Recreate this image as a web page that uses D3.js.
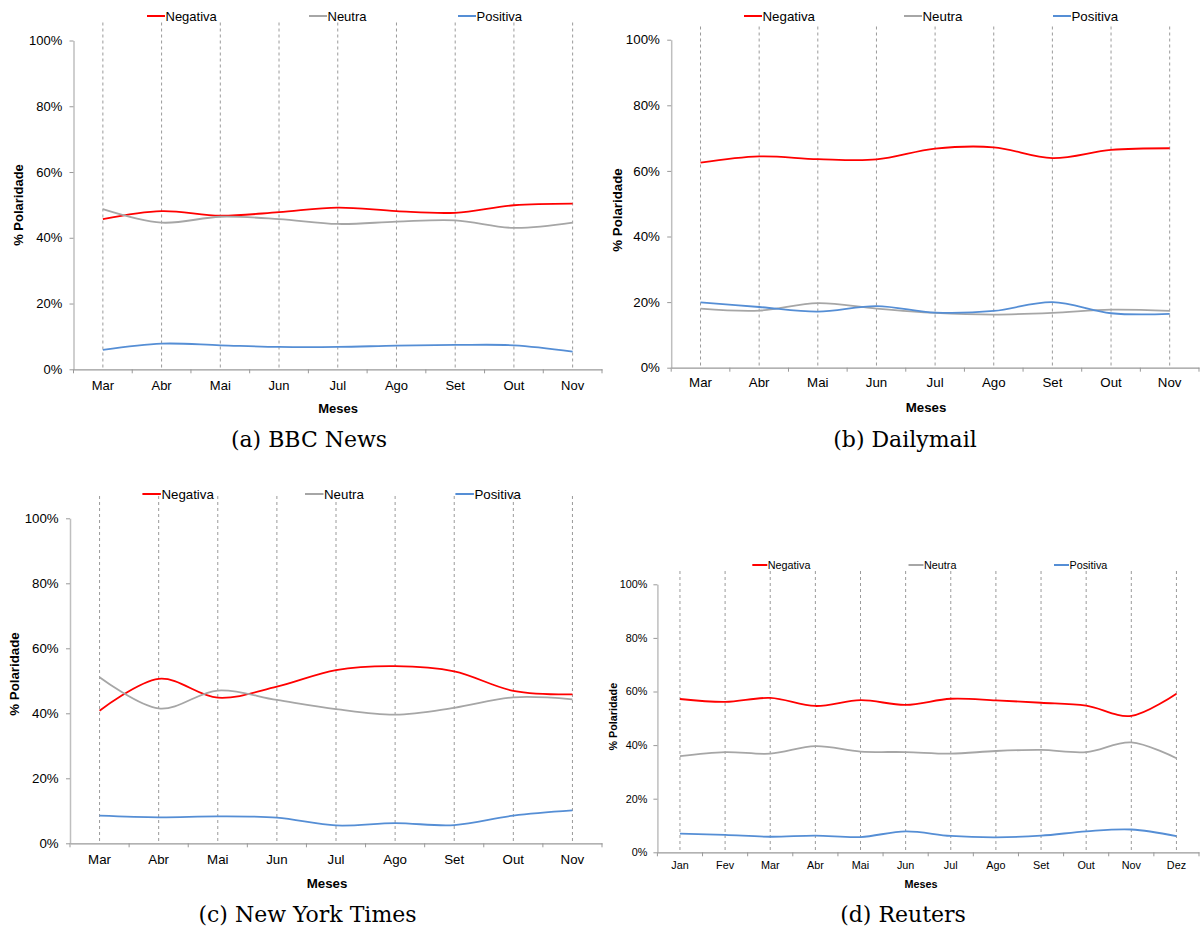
<!DOCTYPE html>
<html>
<head>
<meta charset="utf-8">
<script src="https://cdn.jsdelivr.net/npm/d3@7/dist/d3.min.js"></script>
<style>
  html, body { margin: 0; padding: 0; background: #ffffff; }
  svg { display: block; }
  text { font-family: "Liberation Sans", Arial, sans-serif; fill: #000; }
  .caption { font-family: "DejaVu Serif", "Liberation Serif", serif; }
</style>
</head>
<body>
<svg id="chart" width="1201" height="933"></svg>
<script>
// Month categories
const monthsMarNov = ["Mar", "Abr", "Mai", "Jun", "Jul", "Ago", "Set", "Out", "Nov"];
const monthsJanDez = ["Jan", "Fev", "Mar", "Abr", "Mai", "Jun", "Jul", "Ago", "Set", "Out", "Nov", "Dez"];

// Polarity series and y tick values (percent)
const seriesNames = ["Negativa", "Neutra", "Positiva"];
const seriesColors = ["#ff0000", "#a6a6a6", "#558ed5"];
const yTickValues = [0, 20, 40, 60, 80, 100];

// (a) BBC News
const bbcNegativa = [45.7, 48.1, 46.7, 47.8, 49.2, 48.1, 47.6, 49.9, 50.4];
const bbcNeutra   = [48.7, 44.6, 46.4, 45.7, 44.2, 44.9, 45.3, 43.0, 44.6];
const bbcPositiva = [5.9, 7.8, 7.3, 6.8, 6.8, 7.2, 7.4, 7.3, 5.4];

// (b) Dailymail
const dmNegativa = [62.5, 64.4, 63.6, 63.5, 66.8, 67.2, 63.9, 66.4, 66.9];
const dmNeutra   = [18.0, 17.4, 19.7, 18.0, 16.7, 16.2, 16.7, 17.7, 17.3];
const dmPositiva = [19.9, 18.5, 17.1, 18.8, 16.8, 17.3, 20.0, 16.6, 16.4];

// (c) New York Times
const nytNegativa = [40.8, 50.6, 44.8, 48.2, 53.3, 54.5, 52.9, 46.9, 45.8];
const nytNeutra   = [51.1, 41.5, 47.0, 44.1, 41.3, 39.6, 41.7, 44.9, 44.3];
const nytPositiva = [8.5, 8.0, 8.3, 7.9, 5.5, 6.2, 5.6, 8.5, 10.1];

// (d) Reuters
const reutNegativa = [57.2, 56.1, 57.6, 54.6, 56.8, 55.0, 57.3, 56.7, 55.8, 54.7, 50.9, 59.2];
const reutNeutra   = [35.9, 37.4, 36.8, 39.6, 37.6, 37.4, 36.8, 37.8, 38.2, 37.4, 41.0, 35.1];
const reutPositiva = [7.0, 6.5, 5.8, 6.2, 5.7, 7.8, 6.1, 5.6, 6.2, 7.8, 8.5, 6.0];

// Panel layout
const panels = [
  { months: monthsMarNov, series: [bbcNegativa, bbcNeutra, bbcPositiva], caption: "(a) BBC News",
    left: 73.5, right: 602, top: 40.5, bottom: 369.3, gridTop: 22.5,
    legendY: 16, legendX: [147, 309, 458], legendLen: 18, font: 13,
    labelBase: 390, xTitle: [338, 413], yTitle: [18, 205], captionPos: [309, 447] },
  { months: monthsMarNov, series: [dmNegativa, dmNeutra, dmPositiva], caption: "(b) Dailymail",
    left: 671.2, right: 1199, top: 39.7, bottom: 367.7, gridTop: 26.5,
    legendY: 16, legendX: [744, 904, 1053], legendLen: 18, font: 13.3,
    labelBase: 387.5, xTitle: [926, 411.5], yTitle: [617, 210], captionPos: [905, 447] },
  { months: monthsMarNov, series: [nytNegativa, nytNeutra, nytPositiva], caption: "(c) New York Times",
    left: 70, right: 602, top: 518.3, bottom: 843.3, gridTop: 496,
    legendY: 494, legendX: [142.4, 305, 455.4], legendLen: 18.5, font: 13.3,
    labelBase: 864, xTitle: [327, 888], yTitle: [14.5, 674], captionPos: [307.5, 922] },
  { months: monthsJanDez, series: [reutNegativa, reutNeutra, reutPositiva], caption: "(d) Reuters",
    left: 657.4, right: 1199, top: 584.3, bottom: 852.3, gridTop: 571,
    legendY: 565, legendX: [752.3, 908.5, 1054], legendLen: 15, font: 10.8,
    labelBase: 869, xTitle: [921, 888], yTitle: [613.4, 716.7], captionPos: [903, 922] }
];

const svg = d3.select("#chart");

function drawPanel(p) {
  const g = svg.append("g");
  const x = d3.scaleBand().domain(p.months).range([p.left, p.right]);
  const y = d3.scaleLinear().domain([0, 100]).range([p.bottom, p.top]);
  const cx = m => x(m) + x.bandwidth() / 2;

  // vertical dashed guides at each month
  g.append("g").selectAll("line").data(p.months).join("line")
    .attr("x1", cx).attr("x2", cx)
    .attr("y1", p.gridTop).attr("y2", p.bottom)
    .attr("stroke", "#9a9a9a").attr("stroke-width", 1)
    .attr("stroke-dasharray", "3,3");

  // y axis
  const yAxis = g.append("g").attr("transform", `translate(${p.left},0)`)
    .call(d3.axisLeft(y).tickValues(yTickValues).tickFormat(d => d + "%")
      .tickSize(4).tickPadding(p.font * 0.55).tickSizeOuter(0));
  yAxis.select(".domain").attr("stroke", "#bfbfbf").attr("stroke-width", 1.5);
  yAxis.selectAll(".tick line").attr("stroke", "#999");
  yAxis.selectAll("text").attr("font-size", p.font).attr("font-family", "Liberation Sans, Arial, sans-serif").attr("fill", "#000");

  // x axis
  const xAxis = g.append("g").attr("transform", `translate(0,${p.bottom})`)
    .call(d3.axisBottom(x).tickSize(0).tickSizeOuter(0)
      .tickPadding(p.labelBase - p.bottom - p.font * 0.71));
  xAxis.select(".domain").attr("stroke", "#999").attr("stroke-width", 1.2);
  xAxis.selectAll("text").attr("font-size", p.font).attr("font-family", "Liberation Sans, Arial, sans-serif").attr("fill", "#000");

  // category boundary tick marks
  const bounds = p.months.map(m => x(m)).concat([x.range()[1]]);
  g.append("g").selectAll("line").data(bounds).join("line")
    .attr("x1", d => d).attr("x2", d => d)
    .attr("y1", p.bottom).attr("y2", p.bottom + 4)
    .attr("stroke", "#999").attr("stroke-width", 1);

  // smoothed series lines
  const line = d3.line()
    .x((d, i) => cx(p.months[i]))
    .y(d => y(d))
    .curve(d3.curveCatmullRom.alpha(0));
  p.series.forEach((vals, k) => {
    g.append("path").datum(vals)
      .attr("d", line)
      .attr("fill", "none")
      .attr("stroke", seriesColors[k])
      .attr("stroke-width", 1.8)
      .attr("stroke-linejoin", "round");
  });

  // legend
  seriesNames.forEach((name, k) => {
    const lx = p.legendX[k];
    g.append("line")
      .attr("x1", lx).attr("x2", lx + p.legendLen)
      .attr("y1", p.legendY).attr("y2", p.legendY)
      .attr("stroke", seriesColors[k]).attr("stroke-width", 2);
    g.append("text")
      .attr("x", lx + p.legendLen + 0.5).attr("y", p.legendY)
      .attr("dy", "0.35em")
      .attr("font-size", p.font)
      .text(name);
  });

  // axis titles
  g.append("text")
    .attr("x", p.xTitle[0]).attr("y", p.xTitle[1])
    .attr("text-anchor", "middle")
    .attr("font-size", p.font).attr("font-weight", "bold")
    .text("Meses");
  g.append("text")
    .attr("transform", `translate(${p.yTitle[0]},${p.yTitle[1]}) rotate(-90)`)
    .attr("text-anchor", "middle").attr("dy", "0.35em")
    .attr("font-size", p.font).attr("font-weight", "bold")
    .text("% Polaridade");

  // caption
  g.append("text").attr("class", "caption")
    .attr("x", p.captionPos[0]).attr("y", p.captionPos[1])
    .attr("text-anchor", "middle")
    .attr("font-size", 22)
    .text(p.caption);
}

panels.forEach(drawPanel);
</script>
</body>
</html>
